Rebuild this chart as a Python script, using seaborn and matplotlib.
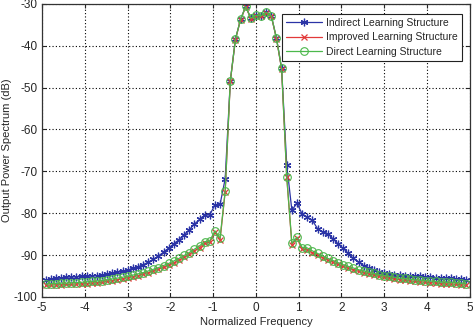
import pandas as pd
import matplotlib
matplotlib.use("Agg")
import matplotlib.pyplot as plt
import seaborn as sns

# normalized frequency bins
freq = [-4.92, -4.80, -4.68, -4.56, -4.44, -4.32, -4.20, -4.08, -3.96, -3.84,
        -3.72, -3.60, -3.48, -3.36, -3.24, -3.12, -3.00, -2.88, -2.76, -2.64,
        -2.52, -2.40, -2.28, -2.16, -2.04, -1.92, -1.80, -1.68, -1.56, -1.44,
        -1.32, -1.20, -1.08, -0.96, -0.84, -0.72, -0.60, -0.48, -0.36, -0.24,
        -0.12, 0.00, 0.12, 0.24, 0.36, 0.48, 0.60, 0.72, 0.84, 0.96,
        1.08, 1.20, 1.32, 1.44, 1.56, 1.68, 1.80, 1.92, 2.04, 2.16,
        2.28, 2.40, 2.52, 2.64, 2.76, 2.88, 3.00, 3.12, 3.24, 3.36,
        3.48, 3.60, 3.72, 3.84, 3.96, 4.08, 4.20, 4.32, 4.44, 4.56,
        4.68, 4.80, 4.92]

indirect = [-95.9, -95.8, -95.6, -95.5, -95.3, -95.2, -95.2, -95.1, -95.1, -95.0,
            -94.9, -94.8, -94.6, -94.4, -94.1, -93.9, -93.6, -93.2, -92.8, -92.3,
            -91.7, -91.0, -90.2, -89.3, -88.3, -87.3, -86.3, -85.1, -84.0, -82.6,
            -81.5, -80.4, -80.4, -78.0, -77.9, -71.8, -48.4, -38.4, -33.7, -30.6,
            -33.4, -32.7, -32.8, -32.0, -32.9, -38.2, -45.4, -68.5, -79.3, -77.6,
            -80.2, -81.0, -81.7, -83.7, -84.5, -84.9, -86.1, -87.3, -88.4, -89.6,
            -90.8, -91.7, -92.5, -93.1, -93.6, -94.0, -94.3, -94.5, -94.7, -94.8,
            -94.9, -95.0, -95.1, -95.1, -95.2, -95.3, -95.4, -95.4, -95.5, -95.6,
            -95.7, -95.8, -95.9]

improved = [-97.2, -97.2, -97.1, -97.1, -97.0, -97.0, -96.9, -96.9, -96.8, -96.7,
            -96.6, -96.5, -96.3, -96.1, -95.9, -95.7, -95.4, -95.2, -94.9, -94.6,
            -94.2, -93.8, -93.4, -92.9, -92.4, -91.8, -91.2, -90.5, -89.8, -89.0,
            -88.2, -87.2, -86.9, -84.6, -86.4, -74.9, -48.5, -38.5, -33.8, -30.7,
            -33.5, -32.8, -32.9, -32.1, -33.0, -38.3, -45.6, -71.4, -87.5, -86.0,
            -88.6, -88.7, -89.4, -90.0, -90.6, -91.2, -91.7, -92.2, -92.7, -93.1,
            -93.5, -93.9, -94.2, -94.5, -94.8, -95.1, -95.3, -95.5, -95.7, -95.9,
            -96.0, -96.2, -96.3, -96.4, -96.5, -96.6, -96.7, -96.8, -96.9, -96.9,
            -97.0, -97.1, -97.2]

direct = [-96.9, -96.8, -96.8, -96.7, -96.7, -96.6, -96.6, -96.5, -96.4, -96.3,
          -96.2, -96.1, -95.9, -95.7, -95.5, -95.3, -95.0, -94.8, -94.5, -94.2,
          -93.8, -93.4, -93.0, -92.5, -92.0, -91.4, -90.8, -90.1, -89.4, -88.6,
          -87.8, -86.8, -86.6, -84.2, -86.0, -74.7, -48.4, -38.4, -33.7, -30.6,
          -33.4, -32.7, -32.8, -32.0, -32.9, -38.2, -45.4, -71.3, -87.2, -85.7,
          -88.2, -88.3, -89.0, -89.6, -90.2, -90.8, -91.3, -91.8, -92.3, -92.7,
          -93.1, -93.5, -93.8, -94.1, -94.4, -94.7, -94.9, -95.1, -95.3, -95.5,
          -95.6, -95.8, -95.9, -96.0, -96.1, -96.2, -96.3, -96.4, -96.5, -96.5,
          -96.6, -96.7, -96.8]

x_ticks = [-5, -4, -3, -2, -1, 0, 1, 2, 3, 4, 5]
y_ticks = [-100, -90, -80, -70, -60, -50, -40, -30]

sns.set_style("ticks")
plt.rcParams["font.family"] = ["Liberation Sans", "DejaVu Sans"]
plt.rcParams["axes.unicode_minus"] = False

fig = plt.figure(figsize=(4.74, 3.27), dpi=100)
ax = fig.add_axes([0.089, 0.092, 0.902, 0.896])

# series drawn one by one so each keeps its own marker
sns.lineplot(x=freq, y=indirect, ax=ax, color="#2b34a6", lw=0.9,
             marker=(6, 2, 0), markersize=5.5, markeredgecolor="#2b34a6",
             markeredgewidth=0.9, label="Indirect Learning Structure")
sns.lineplot(x=freq, y=improved, ax=ax, color="#e23a3a", lw=0.9,
             marker="x", markersize=4, markeredgecolor="#e23a3a",
             markeredgewidth=0.9, label="Improved Learning Structure")
sns.lineplot(x=freq, y=direct, ax=ax, color="#4cb84c", lw=0.9,
             marker="o", markersize=5.5, markerfacecolor="none",
             markeredgecolor="#4cb84c", markeredgewidth=0.8,
             label="Direct Learning Structure")

ax.set_xlim(-5, 5)
ax.set_ylim(-100, -30)
ax.set_xticks(x_ticks)
ax.set_yticks(y_ticks)
ax.grid(True, linestyle=(0, (1, 2)), color="k", linewidth=0.8)
ax.tick_params(direction="in", labelsize=8.5, length=3, top=True, right=True)
for s in ax.spines.values():
    s.set_color("#333333")
    s.set_linewidth(0.9)

ax.set_xlabel("Normalized Frequency", fontsize=8, labelpad=2)
ax.set_ylabel("Output Power Spectrum (dB)", fontsize=8, labelpad=1)

leg = ax.legend(loc="upper right", bbox_to_anchor=(0.994, 0.985), fontsize=7.5,
                fancybox=False, framealpha=1, edgecolor="#222222",
                handlelength=3.4, handletextpad=0.4, borderpad=0.4,
                labelspacing=0.45)
leg.get_frame().set_linewidth(0.8)

fig.savefig("out.png", dpi=100)
